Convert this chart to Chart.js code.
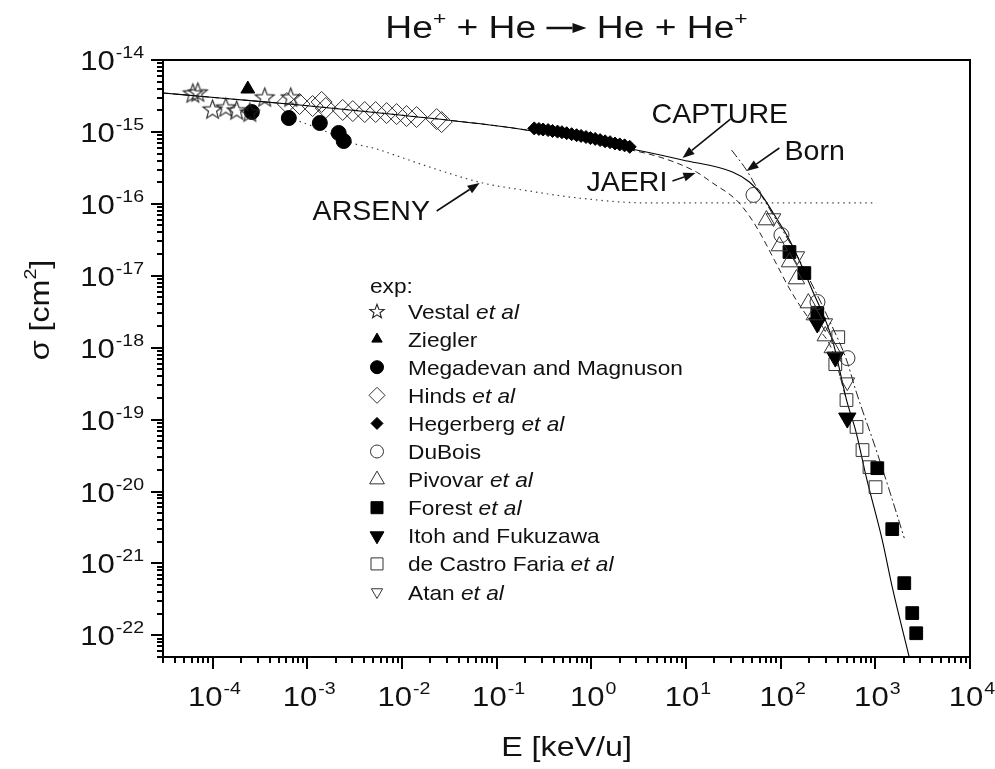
<!DOCTYPE html>
<html>
<head>
<meta charset="utf-8">
<title>He+ + He charge transfer</title>
<script src="https://cdn.jsdelivr.net/npm/chart.js@4.4.1/dist/chart.umd.min.js"></script>
<style>
  html, body { margin: 0; padding: 0; background: #fff; }
  canvas { display: block; }
</style>
</head>
<body>
<canvas id="chart" width="995" height="769"></canvas>
<script>
// E in keV/u, sigma in cm^2

// theory curves
const captureE = [3.0e-5, 1.19e-4, 8.3e-4, 9.5e-3, 0.175, 3.0, 9.2, 31, 46.8, 62.7, 86, 124, 216, 352, 497, 630, 803, 1184, 1510, 2280];
const captureS = [3.48e-15, 2.96e-15, 2.37e-15, 1.72e-15, 1.10e-15, 5.6e-16, 4.07e-16, 2.77e-16, 2.01e-16, 1.33e-16, 6.98e-17, 3.14e-17, 6.3e-18, 1.28e-18, 1.87e-19, 6.5e-20, 1.58e-20, 2.11e-21, 4.68e-22, 5.0e-23];

const jaeriE = [3.0e-5, 1.19e-4, 8.3e-4, 9.5e-3, 0.175, 0.462, 1.22, 5.25, 12.9, 19.1, 34.1, 46.8, 59.7, 86, 130, 211, 343, 497];
const jaeriS = [3.48e-15, 2.96e-15, 2.37e-15, 1.72e-15, 1.10e-15, 8.77e-16, 6.79e-16, 4.48e-16, 2.77e-16, 1.95e-16, 1.13e-16, 6.76e-17, 4.06e-17, 1.65e-17, 5.93e-18, 2.27e-18, 9.87e-19, 1.87e-19];

const bornE = [30.3, 43.6, 55.6, 80, 133, 216, 352, 497, 630, 1023, 1403, 2022];
const bornS = [5.6e-16, 2.95e-16, 1.71e-16, 7.69e-17, 2.51e-17, 7.43e-18, 1.94e-18, 6.73e-19, 2.41e-19, 3.77e-20, 1.05e-20, 2.25e-21];

const arsenyE = [8.3e-4, 1.36e-3, 3.0e-3, 5.4e-3, 9.5e-3, 0.0196, 0.0713, 0.188, 0.753, 3.84, 13.9, 1026];
const arsenyS = [1.40e-15, 1.10e-15, 7.0e-16, 5.8e-16, 4.5e-16, 3.25e-16, 1.95e-16, 1.56e-16, 1.2e-16, 1.03e-16, 1.03e-16, 1.03e-16];

// experiments
const vestalE = [6.2e-5, 7.0e-5, 1.0e-4, 1.38e-4, 1.80e-4, 2.48e-4, 3.56e-4, 6.7e-4];
const vestalS = [3.48e-15, 3.59e-15, 2.08e-15, 2.22e-15, 2.02e-15, 1.89e-15, 3.06e-15, 3.06e-15];

const zieglerE = [2.36e-4];
const zieglerS = [3.95e-15];

const megadevanE = [2.6e-4, 6.4e-4, 1.36e-3, 2.15e-3, 2.43e-3];
const megadevanS = [1.89e-15, 1.56e-15, 1.33e-15, 9.66e-16, 7.47e-16];

const hindsE = [6.1e-4, 8.3e-4, 1.14e-3, 1.42e-3, 1.57e-3, 2.37e-3, 3.03e-3, 4.05e-3, 5.28e-3, 6.9e-3, 8.8e-3, 0.0112, 0.0143, 0.0233, 0.0263];
const hindsS = [2.52e-15, 2.44e-15, 2.29e-15, 2.61e-15, 2.15e-15, 2.02e-15, 1.95e-15, 1.89e-15, 1.89e-15, 1.83e-15, 1.77e-15, 1.66e-15, 1.61e-15, 1.51e-15, 1.37e-15];

const hegerbergE = [0.25, 0.28, 0.31, 0.35, 0.39, 0.44, 0.49, 0.55, 0.62, 0.70, 0.78, 0.88, 0.98, 1.1, 1.24, 1.4, 1.58, 1.78, 2.0, 2.25, 2.55];
const hegerbergS = [1.12e-15, 1.10e-15, 1.08e-15, 1.06e-15, 1.03e-15, 1.01e-15, 9.9e-16, 9.6e-16, 9.3e-16, 9.0e-16, 8.8e-16, 8.5e-16, 8.2e-16, 8.0e-16, 7.7e-16, 7.4e-16, 7.2e-16, 6.9e-16, 6.7e-16, 6.5e-16, 6.2e-16];

const duboisE = [51.7, 102, 245, 508];
const duboisS = [1.33e-16, 3.68e-17, 4.31e-18, 7.16e-19];

const pivovarE = [70.8, 97, 124, 147, 196, 227, 296, 351];
const pivovarS = [5.95e-17, 2.59e-17, 1.55e-17, 9.0e-18, 4.17e-18, 2.84e-18, 1.45e-18, 9.9e-19];

const forestE = [124, 178, 244, 1050, 1510, 2022, 2455, 2705];
const forestS = [2.14e-17, 1.09e-17, 3.03e-18, 2.11e-20, 3.0e-21, 5.32e-22, 2.04e-22, 1.07e-22];

const itohE = [244, 378, 506];
const itohS = [2.2e-18, 7.4e-19, 1.05e-19];

const castroE = [406, 378, 496, 633, 732, 868, 1005];
const castroS = [1.40e-18, 5.9e-19, 1.87e-19, 7.9e-20, 3.77e-20, 2.18e-20, 1.15e-20];

const atanE = [84, 150, 296, 506];
const atanS = [6.35e-17, 1.88e-17, 2.2e-18, 3.32e-19];

// axes
const xMin = 3e-5, xMax = 1e4;
const yMin = 5e-23, yMax = 1e-14;
const xTickExps = [-4, -3, -2, -1, 0, 1, 2, 3, 4];
const yTickExps = [-22, -21, -20, -19, -18, -17, -16, -15, -14];

const FONT = '"Liberation Sans", Arial, Helvetica, sans-serif';
const INK = '#111';
const OPEN = '#333';

function pts(xs, ys) {
  return xs.map((x, i) => ({ x: x, y: ys[i] }));
}

// open five-point star used as a point style
function makeStar(size) {
  const c = document.createElement('canvas');
  c.width = size + 3;
  c.height = size + 3;
  const g = c.getContext('2d');
  const cx = c.width / 2, cy = c.height / 2 + size * 0.05;
  const R = size / 2, r = R * 0.42;
  g.beginPath();
  for (let i = 0; i < 10; i++) {
    const a = -Math.PI / 2 + i * Math.PI / 5;
    const rr = i % 2 ? r : R;
    g.lineTo(cx + rr * Math.cos(a), cy + rr * Math.sin(a));
  }
  g.closePath();
  g.lineWidth = 1.1;
  g.strokeStyle = '#222';
  g.stroke();
  return c;
}

const starBig = makeStar(20);
const starSmall = makeStar(15);

const series = [
  { name: 'Vestal', etAl: true, E: vestalE, S: vestalS, style: starBig, legendStyle: starSmall, r: 9, lr: 7, filled: false },
  { name: 'Ziegler', etAl: false, E: zieglerE, S: zieglerS, style: 'triangle', r: 8, lr: 6, filled: true },
  { name: 'Megadevan and Magnuson', etAl: false, E: megadevanE, S: megadevanS, style: 'circle', r: 7.5, lr: 6.5, filled: true },
  { name: 'Hinds', etAl: true, E: hindsE, S: hindsS, style: 'rectRot', r: 10.5, lr: 8, filled: false },
  { name: 'Hegerberg', etAl: true, E: hegerbergE, S: hegerbergS, style: 'rectRot', r: 6.5, lr: 6, filled: true },
  { name: 'DuBois', etAl: false, E: duboisE, S: duboisS, style: 'circle', r: 7.5, lr: 6.5, filled: false },
  { name: 'Pivovar', etAl: true, E: pivovarE, S: pivovarS, style: 'triangle', r: 9.5, lr: 8.5, filled: false },
  { name: 'Forest', etAl: true, E: forestE, S: forestS, style: 'rect', r: 9, lr: 8.5, filled: true },
  { name: 'Itoh and Fukuzawa', etAl: false, E: itohE, S: itohS, style: 'triangle', rot: 180, r: 10, lr: 8, filled: true },
  { name: 'de Castro Faria', etAl: true, E: castroE, S: castroS, style: 'rect', r: 9, lr: 8.5, filled: false },
  { name: 'Atan', etAl: true, E: atanE, S: atanS, style: 'triangle', rot: 180, r: 8.5, lr: 6.5, filled: false }
];

const curves = [
  { label: 'CAPTURE', E: captureE, S: captureS, dash: [], color: '#000', width: 1.1 },
  { label: 'JAERI', E: jaeriE, S: jaeriS, dash: [6, 4], color: '#222', width: 1 },
  { label: 'Born', E: bornE, S: bornS, dash: [9, 3, 2, 3], color: '#222', width: 1 },
  { label: 'ARSENY', E: arsenyE, S: arsenyS, dash: [1.5, 4], color: '#444', width: 1.2 }
];

// labels with arrows, positioned in data units
const notes = [
  { text: 'CAPTURE', at: [4.34, 1.33e-15], from: [29.5, 1.51e-15], to: [9.2, 4.33e-16] },
  { text: 'Born', at: [110, 4.07e-16], from: [97, 5.97e-16], to: [43.6, 2.86e-16] },
  { text: 'JAERI', at: [0.89, 1.51e-16], from: [7.2, 2.07e-16], to: [12.6, 2.68e-16] },
  { text: 'ARSENY', at: [1.14e-3, 5.95e-17], from: [0.0233, 7.94e-17], to: [0.0662, 1.95e-16] }
];

const datasets = [];
series.forEach(s => {
  datasets.push({
    label: s.name,
    data: pts(s.E, s.S),
    showLine: false,
    pointStyle: s.style,
    rotation: s.rot || 0,
    pointRadius: s.r,
    pointBorderWidth: 1,
    pointBorderColor: s.filled ? '#000' : OPEN,
    pointBackgroundColor: s.filled ? '#000' : 'rgba(0,0,0,0)'
  });
});
curves.forEach(c => {
  datasets.push({
    label: c.label,
    data: pts(c.E, c.S),
    showLine: true,
    pointRadius: 0,
    borderColor: c.color,
    borderWidth: c.width,
    borderDash: c.dash,
    cubicInterpolationMode: 'monotone',
    fill: false
  });
});

// draws text with a slight horizontal stretch
function text(ctx, s, x, y, size, opt) {
  opt = opt || {};
  const sx = opt.sx || 1;
  ctx.save();
  ctx.font = (opt.italic ? 'italic ' : '') + size + 'px ' + FONT;
  ctx.fillStyle = INK;
  ctx.textBaseline = 'alphabetic';
  ctx.textAlign = 'left';
  const w = ctx.measureText(s).width * sx;
  if (!opt.measure) {
    ctx.translate(x, y);
    ctx.scale(sx, 1);
    ctx.fillText(s, 0, 0);
  }
  ctx.restore();
  return w;
}

const TICK = 27, SUP = 17, SX = 1.15;

function powLabel(ctx, e, x, base) {
  const w = text(ctx, '10', x, base, TICK, { sx: SX });
  text(ctx, String(e), x + w + 1, base - 12, SUP, { sx: SX });
}

function arrow(ctx, x1, y1, x2, y2, lw, head, half) {
  const a = Math.atan2(y2 - y1, x2 - x1);
  const bx = x2 - head * Math.cos(a), by = y2 - head * Math.sin(a);
  ctx.save();
  ctx.strokeStyle = INK;
  ctx.fillStyle = INK;
  ctx.lineWidth = lw;
  ctx.beginPath();
  ctx.moveTo(x1, y1);
  ctx.lineTo(bx, by);
  ctx.stroke();
  ctx.beginPath();
  ctx.moveTo(x2, y2);
  ctx.lineTo(bx + half * Math.sin(a), by - half * Math.cos(a));
  ctx.lineTo(bx - half * Math.sin(a), by + half * Math.cos(a));
  ctx.closePath();
  ctx.fill();
  ctx.restore();
}

const decor = {
  id: 'decor',
  afterDraw(chart) {
    const ctx = chart.ctx;
    const xs = chart.scales.x, ys = chart.scales.y;
    const a = chart.chartArea;

    // frame
    ctx.save();
    ctx.strokeStyle = '#000';
    ctx.lineWidth = 2;
    ctx.strokeRect(a.left, a.top, a.right - a.left, a.bottom - a.top);

    // outward ticks on bottom and left axes
    ctx.lineWidth = 2;
    ctx.beginPath();
    for (let d = -6; d <= 4; d++) {
      for (let m = 1; m <= 9; m++) {
        const v = m * Math.pow(10, d);
        if (v >= xMin * 0.999 && v <= xMax * 1.001) {
          const px = Math.round(xs.getPixelForValue(v));
          ctx.moveTo(px, a.bottom);
          ctx.lineTo(px, a.bottom + (m === 1 ? 12 : 6));
        }
      }
    }
    for (let d = -24; d <= -14; d++) {
      for (let m = 1; m <= 9; m++) {
        const v = m * Math.pow(10, d);
        if (v >= yMin * 0.999 && v <= yMax * 1.001) {
          const py = Math.round(ys.getPixelForValue(v));
          ctx.moveTo(a.left, py);
          ctx.lineTo(a.left - (m === 1 ? 12 : 6), py);
        }
      }
    }
    ctx.stroke();
    ctx.restore();

    // tick labels
    xTickExps.forEach(e => {
      const px = xs.getPixelForValue(Math.pow(10, e));
      const w = text(ctx, '10', 0, 0, TICK, { sx: SX, measure: true }) + 1 +
                text(ctx, String(e), 0, 0, SUP, { sx: SX, measure: true });
      powLabel(ctx, e, px - w / 2 + 2, 706);
    });
    yTickExps.forEach(e => {
      const py = ys.getPixelForValue(Math.pow(10, e));
      const w = text(ctx, '10', 0, 0, TICK, { sx: SX, measure: true }) + 1 +
                text(ctx, String(e), 0, 0, SUP, { sx: SX, measure: true });
      powLabel(ctx, e, 144 - w, py + 10);
    });

    // axis titles
    const ew = text(ctx, 'E [keV/u]', 0, 0, 28, { sx: SX, measure: true });
    text(ctx, 'E [keV/u]', (a.left + a.right) / 2 - ew / 2, 756, 28, { sx: SX });

    ctx.save();
    ctx.translate(49, 310);
    ctx.rotate(-Math.PI / 2);
    const sw = text(ctx, '\u03c3 [cm', 0, 0, 28, { sx: SX, measure: true }) +
               text(ctx, '2', 0, 0, 17, { sx: SX, measure: true }) +
               text(ctx, ']', 0, 0, 28, { sx: SX, measure: true });
    let cx = -sw / 2;
    cx += text(ctx, '\u03c3 [cm', cx, 0, 28, { sx: SX });
    cx += text(ctx, '2', cx, -13, 17, { sx: SX });
    text(ctx, ']', cx, 0, 28, { sx: SX });
    ctx.restore();

    // title: He+ + He -> He + He+
    const T = 31, TS = 19, TSX = 1.2;
    const parts = [
      ['He', T, 0], ['+', TS, -13], [' + He ', T, 0], ['->', 0, 0], [' He + He', T, 0], ['+', TS, -13]
    ];
    const arrowLen = 40;
    let tw = 0;
    parts.forEach(p => { tw += p[0] === '->' ? arrowLen : text(ctx, p[0], 0, 0, p[1], { sx: TSX, measure: true }); });
    let tx = (a.left + a.right) / 2 - tw / 2;
    const tb = 38;
    parts.forEach(p => {
      if (p[0] === '->') {
        arrow(ctx, tx, tb - 10, tx + arrowLen, tb - 10, 2.5, 14, 5);
        tx += arrowLen;
      } else {
        tx += text(ctx, p[0], tx, tb + p[2], p[1], { sx: TSX });
      }
    });

    // curve labels
    notes.forEach(n => {
      text(ctx, n.text, xs.getPixelForValue(n.at[0]), ys.getPixelForValue(n.at[1]), 28, { sx: 1.02 });
      arrow(ctx,
        xs.getPixelForValue(n.from[0]), ys.getPixelForValue(n.from[1]),
        xs.getPixelForValue(n.to[0]), ys.getPixelForValue(n.to[1]), 1.6, 12, 4.5);
    });

    // legend
    const LS = 21, LX = 408, SYMX = 377, ROW0 = 311, STEP = 28.1;
    text(ctx, 'exp:', 370, 293, LS, { sx: 1.08 });
    series.forEach((s, i) => {
      const cy = ROW0 + i * STEP;
      ctx.save();
      ctx.fillStyle = s.filled ? '#000' : 'rgba(0,0,0,0)';
      ctx.strokeStyle = s.filled ? '#000' : OPEN;
      ctx.lineWidth = 1;
      Chart.helpers.drawPoint(ctx, {
        pointStyle: s.legendStyle || s.style,
        rotation: s.rot || 0,
        radius: s.lr,
        borderWidth: 1
      }, SYMX, cy);
      ctx.restore();
      let lx = LX;
      lx += text(ctx, s.name + (s.etAl ? ' ' : ''), lx, cy + 7.5, LS, { sx: 1.08 });
      if (s.etAl) text(ctx, 'et al', lx, cy + 7.5, LS, { sx: 1.08, italic: true });
    });
  }
};

new Chart(document.getElementById('chart'), {
  type: 'scatter',
  data: { datasets: datasets },
  options: {
    responsive: false,
    animation: false,
    devicePixelRatio: 1,
    layout: { padding: { left: 163, top: 60, right: 25, bottom: 112 } },
    plugins: {
      legend: { display: false },
      tooltip: { enabled: false }
    },
    scales: {
      x: { type: 'logarithmic', min: xMin, max: xMax, display: false },
      y: { type: 'logarithmic', min: yMin, max: yMax, display: false }
    }
  },
  plugins: [decor]
});
</script>
</body>
</html>
